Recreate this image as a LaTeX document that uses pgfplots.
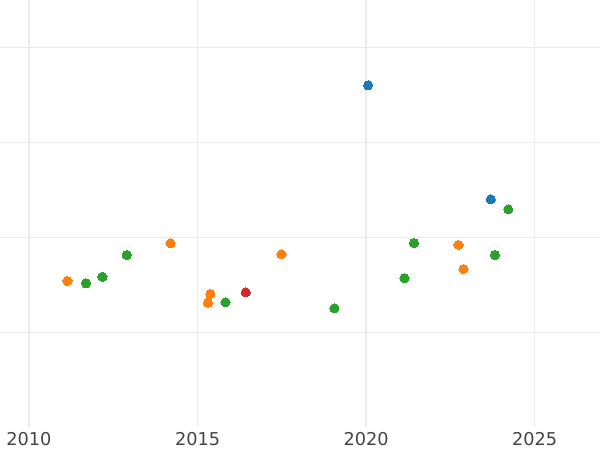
\documentclass[border=0pt]{standalone}
\usepackage{pgfplots}
\pgfplotsset{compat=1.18}
\usepackage{fontspec}
\setmainfont{DejaVu Sans}
\definecolor{tabblue}{HTML}{1F77B4}
\definecolor{taborange}{HTML}{FF7F0E}
\definecolor{tabgreen}{HTML}{2CA02C}
\definecolor{tabred}{HTML}{D62728}
\definecolor{gridc}{HTML}{EBEBEB}
\definecolor{tickc}{HTML}{444444}
\begin{document}
\begin{tikzpicture}
\begin{axis}[
  at={(0,0)}, anchor=south west,
  scale only axis, width=600pt, height=427pt,
  xmin=2009.14, xmax=2026.94, ymin=0, ymax=4.495,
  xtick={2010,2015,2020,2025},
  ytick={1,2,3,4}, yticklabels={},
  major tick length=0pt,
  axis line style={draw=none},
  xmajorgrids, ymajorgrids,
  x grid style={gridc, line width=1.6pt},
  y grid style={gridc, line width=1pt},
  xticklabel style={font=\fontsize{17.7}{21}\selectfont, text=tickc, yshift=-1.5pt},
  /pgf/number format/1000 sep={},
  /pgf/number format/assume math mode=true,
  clip=true,
]
\addplot[only marks, mark=*, mark size=4.6pt, mark options={draw=tabblue, fill=tabblue, line width=0pt}]
  coordinates {(2020.06,3.597) (2023.70,2.397)};
\addplot[only marks, mark=*, mark size=4.6pt, mark options={draw=taborange, fill=taborange, line width=0pt}]
  coordinates {(2011.14,1.537) (2014.20,1.934) (2015.38,1.400) (2015.31,1.308)
               (2017.49,1.818) (2022.74,1.916) (2022.89,1.663)};
\addplot[only marks, mark=*, mark size=4.6pt, mark options={draw=tabgreen, fill=tabgreen, line width=0pt}]
  coordinates {(2024.22,2.292) (2011.69,1.513) (2012.18,1.582) (2012.90,1.811)
               (2015.83,1.313) (2019.06,1.249) (2021.14,1.568) (2021.42,1.937)
               (2023.82,1.811)};
\addplot[only marks, mark=*, mark size=4.6pt, mark options={draw=tabred, fill=tabred, line width=0pt}]
  coordinates {(2016.43,1.418)};
\end{axis}
\pgfresetboundingbox
\useasboundingbox (0,-23pt) rectangle (600pt,427pt);
\end{tikzpicture}
\end{document}
